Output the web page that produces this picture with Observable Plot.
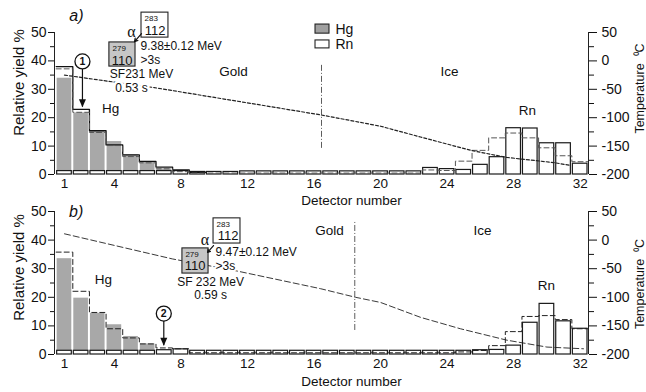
<!DOCTYPE html>
<html><head><meta charset="utf-8">
<script src="https://cdn.jsdelivr.net/npm/d3@7"></script>
<script src="https://cdn.jsdelivr.net/npm/@observablehq/plot@0.6"></script>
<style>
body{margin:0;background:#fff;}
#wrap{position:relative;width:646px;height:392px;overflow:hidden;}
#wrap svg{position:absolute;left:0;}
</style></head><body><div id="wrap"></div>
<script>
const FONT = '"Liberation Sans", Arial, Helvetica, sans-serif';
const detectors = [1,2,3,4,5,6,7,8,9,10,11,12,13,14,15,16,17,18,19,20,21,22,23,24,25,26,27,28,29,30,31,32];
const xTicks = [1,4,8,12,16,20,24,28,32];
const yTicks = [0,10,20,30,40,50];
const yMinorTicks = [5,15,25,35,45];
const tempTicks = [-200,-150,-100,-50,0,50];
const tempMinorTicks = [-175,-125,-75,-25,25];
const xDomain = [0.4, 32.5];
const yDomain = [0, 50];
const tempDomain = [-200, 50];

// Panel a
const hgA  = [33.9,21.7,15.1,11.6,6.9,4.3,2.0,1.3,0.3,0,0,0,0,0,0,0,0,0,0,0,0,0,0,0,0,0,0,0,0,0,0,0];
const rnA  = [1.2,1.2,1.2,1.2,1.2,1.2,1.2,1.2,0.9,0.9,0.9,1.1,1.1,1.1,1.1,1.1,1.1,1.1,1.1,1.1,1.1,1.1,2.3,1.9,1.6,3.4,6.1,16.3,16.2,11.0,11.0,3.8];
const simA = [37.2,21.9,14.8,10.2,6.3,4.1,2.0,1.0,0.5,0.5,0.5,0.5,0.5,0.5,0.5,0.5,0.5,0.5,0.5,0.5,0.5,0.5,1.6,1.4,4.7,8.5,12.9,14.6,12.9,9.4,6.6,4.5];
const hgRefDetA = [1,2,3,4,5,6,7,8,9];
const hgRefA = [38.0,22.9,15.4,10.4,6.9,4.6,2.6,1.6,0.8];
const tempDetA = [1,3.3,6.4,16.4,20,22.4,25.5,27.6,30.4,31.4];
const tempA = [-25,-34.5,-47,-95,-115,-134,-158,-170,-179,-184];

// Panel b
const hgB  = [33.5,19.7,14.4,10.4,6.3,3.7,1.6,0.6,0,0,0,0,0,0,0,0,0,0,0,0,0,0,0,0,0,0,0,0,0,0,0,0];
const rnB  = [1.3,1.3,1.3,1.3,1.3,1.3,1.5,1.8,1.3,1.3,1.3,1.3,1.3,1.3,1.3,1.3,1.3,1.3,1.3,1.3,1.3,1.3,1.3,1.3,1.3,1.5,1.6,3.1,11.1,17.7,11.6,9.0];
const simB = [35.8,22.1,14.7,9.0,5.8,3.7,2.3,2.0,0.6,0.6,0.6,0.6,0.6,0.6,0.6,0.6,0.6,0.6,0.6,0.6,0.6,0.6,0.6,0.6,0.9,1.4,3.1,8.0,13.3,13.6,12.2,9.0];
const tempDetB = [1,7.5,11.2,16.4,18.5,20,22.4,24.8,27.6,30,32.2];
const tempB = [11,-33,-53,-85,-100,-109,-135,-155,-175,-187,-190];

// annotations
const annA = {
  panel: "a)", panelPos: [1.72, 56],
  regions: [{t:"Gold",x:11.16,y:36.3},{t:"Ice",x:24.14,y:36.3},{t:"Hg",x:3.77,y:23.2},{t:"Rn",x:28.83,y:22.5}],
  divider: {x:16.45,y1:9.2,y2:39},
  boxes: [{x1:5.63,x2:7.25,y1:48.2,y2:57.0,fill:"white"},{x1:3.70,x2:5.27,y1:38.0,y2:46.5,fill:"#c6c6c6"}],
  small: [{t:"283",x:5.81,y:54.9},{t:"279",x:3.89,y:44.4}],
  big: [{t:"112",x:7.07,y:50.5},{t:"110",x:5.09,y:40.0}],
  alpha: {x:5.03,y:50.2},
  arrow: {x1:5.63,y1:49.6,x2:5.21,y2:46.8},
  leftTexts: [{t:"9.38±0.12 MeV\n>3s",x:5.57,y:43.0,lh:1.16}],
  midTexts: [{t:"SF231 MeV",x:5.63,y:35.2,lh:1},{t:"0.53 s",x:5.03,y:30.3,lh:1}],
  marker: {t:"1",x:2.08,y:39.8,tip:23.7},
  legend: true,
  tempDash: "3,2", tempWidth: 1.2
};
const annB = {
  panel: "b)", panelPos: [1.70, 49.8],
  regions: [{t:"Gold",x:16.93,y:43.4},{t:"Ice",x:26.13,y:43.4},{t:"Hg",x:3.34,y:26.3},{t:"Rn",x:29.97,y:24.1}],
  divider: {x:18.45,y1:8.4,y2:46.3},
  boxes: [{x1:9.96,x2:11.58,y1:38.8,y2:47.6,fill:"white"},{x1:8.09,x2:9.66,y1:28.3,y2:37.1,fill:"#c6c6c6"}],
  small: [{t:"283",x:10.14,y:45.5},{t:"279",x:8.27,y:35.0}],
  big: [{t:"112",x:11.46,y:41.5},{t:"110",x:9.48,y:31.0}],
  alpha: {x:9.45,y:40.0},
  arrow: {x1:9.96,y1:38.1,x2:9.6,y2:35.7},
  leftTexts: [{t:"9.47±0.12 MeV\n>3s",x:10.08,y:33.6,lh:1.16}],
  midTexts: [{t:"SF 232 MeV\n0.59 s",x:9.78,y:23.25,lh:1.16}],
  marker: {t:"2",x:6.97,y:14.3,tip:3.1},
  legend: false,
  tempDash: "6,3", tempWidth: 0.9
};
const legendItems = [
  {t:"Hg", x1:16.09, x2:16.93, y1:49.6, y2:52.8, fill:"#a0a0a0", tx:17.29, ty:51.1},
  {t:"Rn", x1:16.09, x2:16.93, y1:44.4, y2:47.2, fill:"white", tx:17.29, ty:45.8}
];

const toY = t => (t - tempDomain[0]) / (tempDomain[1] - tempDomain[0]) * (yDomain[1] - yDomain[0]);
const fromY = y => Math.round(tempDomain[0] + y / (yDomain[1] - yDomain[0]) * (tempDomain[1] - tempDomain[0]));

function rows(vals) { return detectors.map((d, i) => ({det: d, v: vals[i]})); }
function stepRows(dets, vals) {
  const r = dets.map((d, i) => ({x: d - 0.5, y: vals[i]}));
  r.push({x: dets[dets.length - 1] + 0.5, y: vals[vals.length - 1]});
  return r;
}
const downTri = {draw(ctx) { ctx.moveTo(0, 0); ctx.lineTo(-3.5, -8); ctx.lineTo(3.5, -8); ctx.closePath(); }};

function textGroup(items, anchor, halo) {
  return items.map(it => Plot.text([it], {x: "x", y: "y", text: "t", fontSize: 12, lineHeight: it.lh, textAnchor: anchor, stroke: "white", strokeWidth: halo, fill: "#111"}));
}

function panel(hg, rn, sim, ref, tempDet, temp, ann, height, zeroY, lab) {
  const tempRows = tempDet.map((d, i) => ({x: d, y: toY(temp[i])}));
  const marks = [
    Plot.rectY(rows(hg), {x1: d => d.det - 0.44, x2: d => d.det + 0.44, y1: 0, y2: "v", fill: "#a8a8a8"}),
    Plot.rectY(rows(rn), {x1: d => d.det - 0.44, x2: d => d.det + 0.44, y1: 0, y2: "v", fill: "white", stroke: "#1a1a1a", strokeWidth: 1.2}),
  ];
  if (ref) marks.push(Plot.line(stepRows(ref[0], ref[1]), {x: "x", y: "y", curve: "step-after", stroke: "#111", strokeWidth: 1.3}));
  marks.push(
    Plot.line(stepRows(detectors, sim), {x: "x", y: "y", curve: "step-after", stroke: ref ? "#555" : "#222", strokeWidth: 1, strokeDasharray: "5,3"}),
    Plot.line(tempRows, {x: "x", y: "y", stroke: "#222", strokeWidth: ann.tempWidth, strokeDasharray: ann.tempDash}),
    Plot.ruleX([ann.divider], {x: "x", y1: "y1", y2: "y2", stroke: "#333", strokeWidth: 0.8, strokeDasharray: "6,2,1,2"}),
    Plot.ruleX([xDomain[0], xDomain[1]], {y1: yDomain[0], y2: yDomain[1], stroke: "#222", strokeWidth: 1}),
    Plot.axisX({ticks: xTicks, tickSize: 0, tickPadding: 4, fontSize: 13.5, tickFormat: d => String(d), label: null}),
    Plot.axisY({anchor: "left", ticks: yTicks, tickSize: 6, tickPadding: 2, fontSize: 14, tickFormat: d => String(d), label: null}),
    Plot.axisY({anchor: "left", ticks: yMinorTicks, tickSize: 4, tickFormat: () => "", label: null}),
    Plot.axisY({anchor: "right", ticks: tempTicks.map(toY), tickSize: 8, tickPadding: 5, fontSize: 14, tickFormat: y => String(fromY(y)), label: null}),
    Plot.axisY({anchor: "right", ticks: tempMinorTicks.map(toY), tickSize: 5, tickFormat: () => "", label: null}),
    Plot.text(["Detector number"], {frameAnchor: "bottom", textAnchor: "middle", lineAnchor: "middle", dx: 30, dy: lab.detDy, fontSize: 13.5}),
    Plot.text(["Relative yield %"], {frameAnchor: "left", textAnchor: "middle", lineAnchor: "middle", rotate: -90, dx: -35, dy: lab.relDy, fontSize: 15}),
    Plot.text(["Temperature  \u2070C"], {frameAnchor: "right", textAnchor: "middle", lineAnchor: "middle", rotate: -90, dx: 51, dy: lab.tempDy, fontSize: 12.5}),
    Plot.text([ann.panel], {x: () => ann.panelPos[0], y: () => ann.panelPos[1], fontSize: 16, fontStyle: "italic"}),
    Plot.text(ann.regions, {x: "x", y: "y", text: "t", fontSize: 13.5}),
    ...textGroup(ann.midTexts, "middle", 5),
    ...textGroup(ann.leftTexts, "start", 4),
    Plot.rect(ann.boxes, {x1: "x1", x2: "x2", y1: "y1", y2: "y2", fill: "fill", stroke: "#222", strokeWidth: 1.1}),
    Plot.text(ann.small, {x: "x", y: "y", text: "t", fontSize: 8, textAnchor: "start"}),
    Plot.text(ann.big, {x: "x", y: "y", text: "t", fontSize: 13, textAnchor: "end"}),
    Plot.text([ann.alpha], {x: "x", y: "y", text: () => "\u03b1", fontSize: 16, fontFamily: '"Liberation Serif", "DejaVu Serif", serif'}),
    Plot.arrow([ann.arrow], {x1: "x1", y1: "y1", x2: "x2", y2: "y2", stroke: "#111", strokeWidth: 1.2, headLength: 6}),
    Plot.ruleX([ann.marker], {x: "x", y1: "y", y2: "tip", stroke: "#111", strokeWidth: 1.2}),
    Plot.dot([ann.marker], {x: "x", y: "tip", symbol: downTri, fill: "#111", stroke: "none", r: 4}),
    Plot.dot([ann.marker], {x: "x", y: "y", r: 7.5, fill: "white", stroke: "#111", strokeWidth: 1.3}),
    Plot.text([ann.marker], {x: "x", y: "y", text: "t", fontSize: 10.5, fontWeight: "bold"})
  );
  if (ann.legend) {
    marks.push(
      Plot.rect(legendItems, {x1: "x1", x2: "x2", y1: "y1", y2: "y2", fill: "fill", stroke: "#222", strokeWidth: 1.1}),
      Plot.text(legendItems, {x: "tx", y: "ty", text: "t", fontSize: 14, textAnchor: "start"})
    );
  }
  return Plot.plot({
    width: 646, height,
    marginLeft: 54, marginRight: 58, marginTop: 32, marginBottom: height - zeroY,
    x: {domain: xDomain, axis: null},
    y: {domain: yDomain, axis: null},
    style: {fontFamily: FONT, color: "#111", background: "none", overflow: "visible"},
    marks
  });
}

const wrapEl = document.getElementById("wrap");
const panelA = panel(hgA, rnA, simA, [hgRefDetA, hgRefA], tempDetA, tempA, annA, 210, 174, {detDy: 26, relDy: -21, tempDy: -15});
panelA.style.top = "0px";
const panelB = panel(hgB, rnB, simB, null, tempDetB, tempB, annB, 213, 175, {detDy: 27, relDy: -15.5, tempDy: 1});
panelB.style.top = "179px";
wrapEl.appendChild(panelA);
wrapEl.appendChild(panelB);
</script></body></html>
